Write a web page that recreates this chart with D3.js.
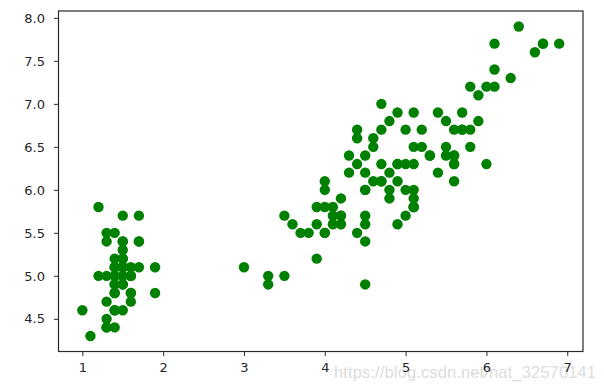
<!DOCTYPE html>
<html>
<head>
<meta charset="utf-8">
<script src="https://cdn.jsdelivr.net/npm/d3@7"></script>
<style>
  body { margin: 0; background: #fff; }
  .tick text { font-family: "DejaVu Sans", sans-serif; font-size: 13px; fill: #262626; }
</style>
</head>
<body>
<div id="chart"></div>
<script>
// petal length (x) and sepal length (y), one entry per flower
const petalLength = [
  1.4,1.4,1.3,1.5,1.4,1.7,1.4,1.5,1.4,1.5,1.5,1.6,1.4,1.1,1.2,1.5,1.3,1.4,1.7,1.5,
  1.7,1.5,1.0,1.7,1.9,1.6,1.6,1.5,1.4,1.6,1.6,1.5,1.5,1.4,1.5,1.2,1.3,1.4,1.3,1.5,
  1.3,1.3,1.3,1.6,1.9,1.4,1.6,1.4,1.5,1.4,
  4.7,4.5,4.9,4.0,4.6,4.5,4.7,3.3,4.6,3.9,3.5,4.2,4.0,4.7,3.6,4.4,4.5,4.1,4.5,3.9,
  4.8,4.0,4.9,4.7,4.3,4.4,4.8,5.0,4.5,3.5,3.8,3.7,3.9,5.1,4.5,4.5,4.7,4.4,4.1,4.0,
  4.4,4.6,4.0,3.3,4.2,4.2,4.2,4.3,3.0,4.1,
  6.0,5.1,5.9,5.6,5.8,6.6,4.5,6.3,5.8,6.1,5.1,5.3,5.5,5.0,5.1,5.3,5.5,6.7,6.9,5.0,
  5.7,4.9,6.7,4.9,5.7,6.0,4.8,4.9,5.6,5.8,6.1,6.4,5.6,5.1,5.6,6.1,5.6,5.5,4.8,5.4,
  5.6,5.1,5.1,5.9,5.7,5.2,5.0,5.2,5.4,5.1
]
const sepalLength = [
  5.1,4.9,4.7,4.6,5.0,5.4,4.6,5.0,4.4,4.9,5.4,4.8,4.8,4.3,5.8,5.7,5.4,5.1,5.7,5.1,
  5.4,5.1,4.6,5.1,4.8,5.0,5.0,5.2,5.2,4.7,4.8,5.4,5.2,5.5,4.9,5.0,5.5,4.9,4.4,5.1,
  5.0,4.5,4.4,5.0,5.1,4.8,5.1,4.6,5.3,5.0,
  7.0,6.4,6.9,5.5,6.5,5.7,6.3,4.9,6.6,5.2,5.0,5.9,6.0,6.1,5.6,6.7,5.6,5.8,6.2,5.6,
  5.9,6.1,6.3,6.1,6.4,6.6,6.8,6.7,6.0,5.7,5.5,5.5,5.8,6.0,5.4,6.0,6.7,6.3,5.6,5.5,
  5.5,6.1,5.8,5.0,5.6,5.7,5.7,6.2,5.1,5.7,
  6.3,5.8,7.1,6.3,6.5,7.6,4.9,7.3,6.7,7.2,6.5,6.4,6.8,5.7,5.8,6.4,6.5,7.7,7.7,6.0,
  6.9,5.6,7.7,6.3,6.7,7.2,6.2,6.1,6.4,7.2,7.4,7.9,6.4,6.3,6.1,7.7,6.3,6.4,6.0,6.9,
  6.7,6.9,5.8,6.8,6.7,6.7,6.3,6.5,6.2,5.9
]
const xTicks = [1, 2, 3, 4, 5, 6, 7]
const yTicks = [4.5, 5.0, 5.5, 6.0, 6.5, 7.0, 7.5, 8.0]

var width = 604
var height = 391
var margin = { top: 11, right: 21, bottom: 39.5, left: 58.5 }

const points = petalLength.map((p, i) => ({ x: p, y: sepalLength[i] }))

const svg = d3.select("#chart")
  .append("svg")
  .attr("width", width)
  .attr("height", height)

// matplotlib style 5% padding around the data
const xExt = d3.extent(petalLength), yExt = d3.extent(sepalLength)
const xPad = (xExt[1] - xExt[0]) * 0.05, yPad = (yExt[1] - yExt[0]) * 0.05

const x = d3.scaleLinear()
  .domain([xExt[0] - xPad, xExt[1] + xPad])
  .range([margin.left, width - margin.right])

const y = d3.scaleLinear()
  .domain([yExt[0] - yPad, yExt[1] + yPad])
  .range([height - margin.bottom, margin.top])

// faint blog watermark behind the tick labels
svg.append("text")
  .attr("x", 334)
  .attr("y", 378)
  .attr("textLength", 262)
  .attr("font-family", "Liberation Sans, Arial, sans-serif")
  .attr("font-size", 16.5)
  .attr("fill", "#dcdcdc")
  .text("https://blog.csdn.net/nat_32570141")

svg.append("g")
  .attr("fill", "#008000")
  .selectAll("circle")
  .data(points)
  .join("circle")
  .attr("cx", d => x(d.x))
  .attr("cy", d => y(d.y))
  .attr("r", 5.2)

// frame
svg.append("rect")
  .attr("x", margin.left)
  .attr("y", margin.top)
  .attr("width", width - margin.left - margin.right)
  .attr("height", height - margin.top - margin.bottom)
  .attr("fill", "none")
  .attr("stroke", "#2a2a2a")
  .attr("stroke-width", 1.2)

svg.append("g")
  .attr("transform", `translate(0,${height - margin.bottom})`)
  .call(d3.axisBottom(x).tickValues(xTicks).tickFormat(d3.format("d")).tickSize(4.5).tickPadding(7))
  .call(g => g.select(".domain").remove())
  .call(g => g.selectAll("line").attr("stroke", "#2a2a2a"))

svg.append("g")
  .attr("transform", `translate(${margin.left},0)`)
  .call(d3.axisLeft(y).tickValues(yTicks).tickFormat(d3.format(".1f")).tickSize(4.5).tickPadding(9))
  .call(g => g.select(".domain").remove())
  .call(g => g.selectAll("line").attr("stroke", "#2a2a2a"))
</script>
</body>
</html>
